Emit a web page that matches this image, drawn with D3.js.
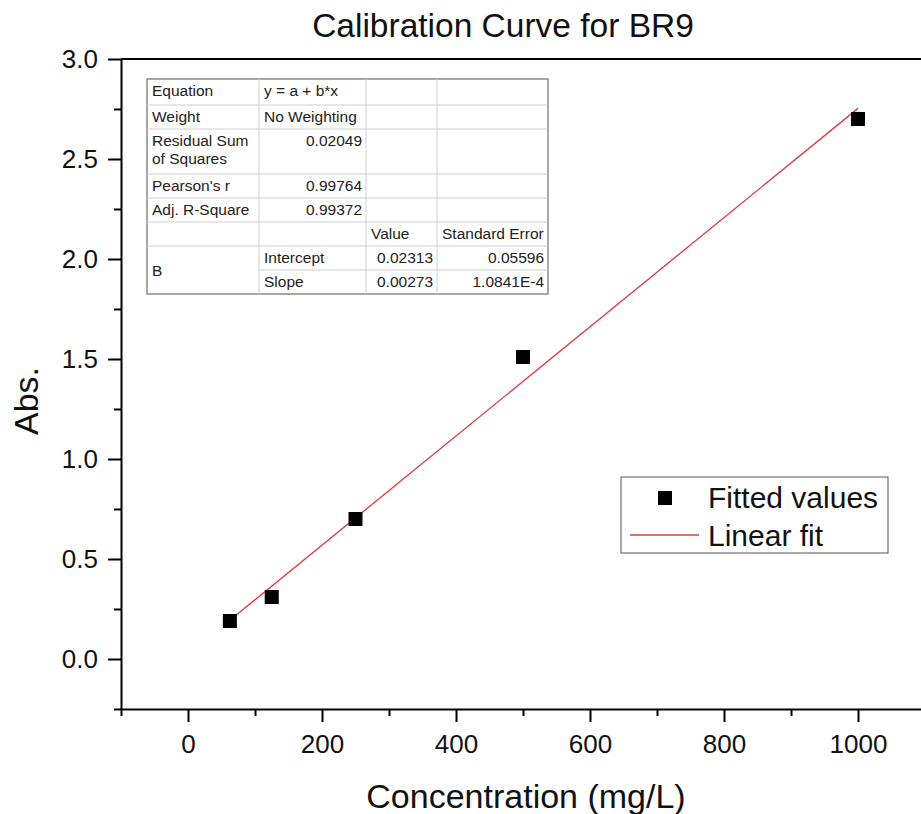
<!DOCTYPE html>
<html><head><meta charset="utf-8">
<script src="https://cdn.jsdelivr.net/npm/d3@7"></script>
<style>
html,body{margin:0;padding:0;background:#fff;overflow:hidden;}
text{font-family:"Liberation Sans",Arial,sans-serif;}
</style></head>
<body>
<svg id="c" width="921" height="814"></svg>
<script>
// ---- data ----
const concentrations = [62.5, 125, 250, 500, 1000];
const absorbances = [0.19, 0.31, 0.70, 1.51, 2.70];
const fitIntercept = 0.02313;
const fitSlope = 0.00273;
const xTicks = [0, 200, 400, 600, 800, 1000];
const xMinorTicks = [-100, 100, 300, 500, 700, 900, 1100];
const yTicks = [0, 0.5, 1.0, 1.5, 2.0, 2.5, 3.0];
const yMinorTicks = [-0.25, 0.25, 0.75, 1.25, 1.75, 2.25, 2.75];
const tableRows = [
  ["Equation", "y = a + b*x", "", ""],
  ["Weight", "No Weighting", "", ""],
  ["Residual Sum\nof Squares", "0.02049", "", ""],
  ["Pearson's r", "0.99764", "", ""],
  ["Adj. R-Square", "0.99372", "", ""],
  ["", "", "Value", "Standard Error"],
  ["B", "Intercept", "0.02313", "0.05596"],
  ["", "Slope", "0.00273", "1.0841E-4"]
];
const legendLabels = ["Fitted values", "Linear fit"];
const titleText = "Calibration Curve for BR9";
const xLabel = "Concentration (mg/L)";
const yLabel = "Abs.";

// ---- layout ----
const svg = d3.select("#c");
const x = d3.scaleLinear().domain([-100, 1100]).range([121, 925]);
const y = d3.scaleLinear().domain([-0.25, 3.0]).range([709, 59]);
const red = "#e0383c";
const FONT = "Liberation Sans, Arial, sans-serif";

// title
svg.append("text").attr("x", 503).attr("y", 37).attr("text-anchor", "middle")
  .attr("font-size", 33.5).attr("fill", "#111").text(titleText);

// frame top line
svg.append("line").attr("x1", x(-100)).attr("x2", 921).attr("y1", y(3)).attr("y2", y(3))
  .attr("stroke", "#000").attr("stroke-width", 2);

// x axis
const gx = svg.append("g").attr("transform", `translate(0,${y(-0.25)})`);
gx.call(d3.axisBottom(x).tickValues(xTicks).tickSize(13).tickSizeOuter(0).tickPadding(6).tickFormat(d3.format("d")));
const gxm = svg.append("g").attr("transform", `translate(0,${y(-0.25)})`);
gxm.call(d3.axisBottom(x).tickValues(xMinorTicks).tickSize(7).tickSizeOuter(0).tickFormat(""));
gxm.select(".domain").remove();

// y axis
const gy = svg.append("g").attr("transform", `translate(${x(-100)},0)`);
gy.call(d3.axisLeft(y).tickValues(yTicks).tickSize(13).tickSizeOuter(0).tickPadding(10).tickFormat(d3.format(".1f")));
const gym = svg.append("g").attr("transform", `translate(${x(-100)},0)`);
gym.call(d3.axisLeft(y).tickValues(yMinorTicks).tickSize(7).tickSizeOuter(0).tickFormat(""));
gym.select(".domain").remove();

svg.selectAll(".domain").attr("stroke-width", 2);
svg.selectAll(".tick line").attr("stroke-width", 2);
[gx, gy].forEach(g => g.attr("font-size", 26).attr("font-family", FONT));
gx.selectAll(".tick text").attr("font-size", 26).attr("fill", "#111").attr("dy", "0.95em");
gy.selectAll(".tick text").attr("font-size", 26).attr("fill", "#111");

// axis labels
svg.append("text").attr("x", 526).attr("y", 808).attr("text-anchor", "middle")
  .attr("font-size", 34).attr("fill", "#111").text(xLabel);
svg.append("text").attr("transform", "translate(38,401) rotate(-90)").attr("text-anchor", "middle")
  .attr("font-size", 34).attr("fill", "#111").text(yLabel);

// fit line
const x0 = d3.min(concentrations), x1 = d3.max(concentrations);
svg.append("line").attr("x1", x(x0)).attr("y1", y(fitIntercept + fitSlope * x0))
  .attr("x2", x(x1)).attr("y2", y(fitIntercept + fitSlope * x1))
  .attr("stroke", red).attr("stroke-width", 1.3);

// points
const sq = 14;
svg.selectAll("rect.pt").data(concentrations).enter().append("rect").attr("class", "pt")
  .attr("x", d => x(d) - sq / 2).attr("y", (d, i) => y(absorbances[i]) - sq / 2)
  .attr("width", sq).attr("height", sq).attr("fill", "#000");

// table
const colX = [147, 259, 366, 437, 548];
const rowY = [79, 105, 129, 174, 198, 222, 246, 270, 294];
const tg = svg.append("g");
tg.append("rect").attr("x", colX[0]).attr("y", rowY[0]).attr("width", colX[4] - colX[0])
  .attr("height", rowY[8] - rowY[0]).attr("fill", "#fff").attr("stroke", "#8a8a8a").attr("stroke-width", 1.5);
rowY.slice(1, 8).forEach((ry, i) => {
  const startX = (i === 6) ? colX[1] : colX[0];
  tg.append("line").attr("x1", startX).attr("x2", colX[4]).attr("y1", ry).attr("y2", ry)
    .attr("stroke", "#d0d0d0").attr("stroke-width", 1);
});
colX.slice(1, 4).forEach(cx => {
  tg.append("line").attr("x1", cx).attr("x2", cx).attr("y1", rowY[0]).attr("y2", rowY[8])
    .attr("stroke", "#d0d0d0").attr("stroke-width", 1);
});
const fs = 15.5;
tableRows.forEach((row, r) => {
  row.forEach((cell, c) => {
    if (!cell) return;
    let anchor = "start", tx = colX[c] + 5;
    const numeric = /^[0-9.]/.test(cell);
    if (numeric) { anchor = "end"; tx = colX[c + 1] - 4; }
    let ty = rowY[r] + 17;
    if (r === 6 && c === 0) ty = (rowY[6] + rowY[8]) / 2 + 6;
    const lines = cell.split("\n");
    const t = tg.append("text").attr("x", tx).attr("y", ty).attr("text-anchor", anchor)
      .attr("font-size", fs).attr("fill", "#222");
    lines.forEach((ln, k) => {
      t.append("tspan").attr("x", tx).attr("dy", k === 0 ? 0 : 18).text(ln);
    });
  });
});

// legend
const lg = svg.append("g");
lg.append("rect").attr("x", 621).attr("y", 477).attr("width", 267).attr("height", 76)
  .attr("fill", "#fff").attr("stroke", "#555").attr("stroke-width", 1);
lg.append("rect").attr("x", 665 - sq / 2).attr("y", 498 - sq / 2).attr("width", sq).attr("height", sq).attr("fill", "#000");
lg.append("line").attr("x1", 630).attr("x2", 699).attr("y1", 535).attr("y2", 535)
  .attr("stroke", red).attr("stroke-width", 1.3);
lg.append("text").attr("x", 708).attr("y", 508).attr("font-size", 30).attr("fill", "#111").text(legendLabels[0]);
lg.append("text").attr("x", 708).attr("y", 546).attr("font-size", 30).attr("fill", "#111").text(legendLabels[1]);
</script>
</body></html>
